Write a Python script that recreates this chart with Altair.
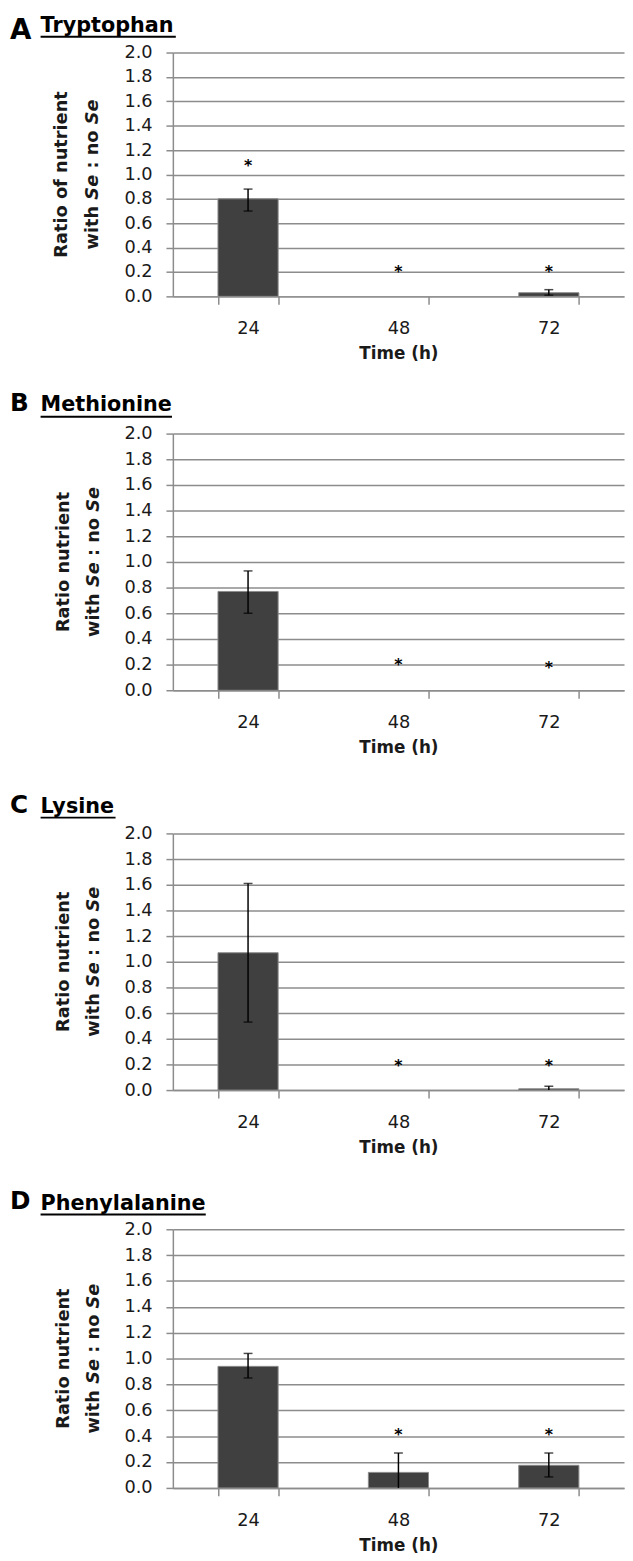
import altair as alt
import pandas as pd

# ---------------- data ----------------
TIMES = ["24", "48", "72"]
LETTERS = ["A", "B", "C", "D"]
NAMES = ["Tryptophan", "Methionine", "Lysine", "Phenylalanine"]
YLINE1 = ["Ratio of nutrient", "Ratio nutrient", "Ratio nutrient", "Ratio nutrient"]
YLINE2 = ["with", "Se", ":", "no", "Se"]
YLINE2_ITALIC = [False, True, False, False, True]
Y_TICKS = [0.0, 0.2, 0.4, 0.6, 0.8, 1.0, 1.2, 1.4, 1.6, 1.8, 2.0]
X_TITLE = "Time (h)"

TRP_MEAN = [0.80, 0.0, 0.03]
TRP_LO = [0.70, None, 0.01]
TRP_HI = [0.88, None, 0.055]
TRP_STAR = [1.10, 0.235, 0.235]

MET_MEAN = [0.77, 0.0, 0.0]
MET_LO = [0.60, None, None]
MET_HI = [0.93, None, None]
MET_STAR = [None, 0.228, 0.205]

LYS_MEAN = [1.07, 0.0, 0.01]
LYS_LO = [0.53, None, 0.0]
LYS_HI = [1.61, None, 0.03]
LYS_STAR = [None, 0.215, 0.215]

PHE_MEAN = [0.94, 0.12, 0.175]
PHE_LO = [0.85, 0.0, 0.085]
PHE_HI = [1.04, 0.27, 0.27]
PHE_STAR = [None, 0.44, 0.44]

SERIES = [
    (TRP_MEAN, TRP_LO, TRP_HI, TRP_STAR),
    (MET_MEAN, MET_LO, MET_HI, MET_STAR),
    (LYS_MEAN, LYS_LO, LYS_HI, LYS_STAR),
    (PHE_MEAN, PHE_LO, PHE_HI, PHE_STAR),
]

# ---------------- layout / style ----------------
FONT = "DejaVu Sans"
W = 457
PLOT_H = [247, 260, 260, 262]
PLOT_TOP = [42, 426, 829, 1228]
BOTTOM_EXT = 70
SPACING = 10
TOP_A = 52
PAD_TOP = PLOT_TOP[0] - 8 - TOP_A
LEFT_EXT = 166
LETTER_SIZE = [28, 25, 25, 25]
LETTER_BASE = [-14, -23, -21, -21]
NAME_SIZE = 21
NAME_BASE = [-21, -23, -21, -20]
UNDER_Y = [-16, -17, -16, -15]
NAME_X = -134
YT_SIZE = 18
YT_X1 = [-112, -110, -110, -110]
YT_X2 = [-81, -80, -80, -80]
GRID = "#8c8c8c"
BAR = "#404040"
BAR_EDGE = "#8a8a8a"
TXT = "#1a1a1a"

BOLD_W = {" ": .348, "w": .924, "i": .343, "t": .478, "h": .712, "S": .720,
          "e": .678, ":": .400, "n": .712, "o": .687, "T": .682, "r": .493,
          "y": .652, "p": .716, "a": .675, "M": .995, "L": .637, "s": .595,
          "P": .733, "l": .343}


def text_w(s, size):
    return sum(BOLD_W.get(c, .65) for c in s) * size


def top_ext(i):
    if i == 0:
        return TOP_A
    prev_bottom = PLOT_TOP[i - 1] + PLOT_H[i - 1] + BOTTOM_EXT + SPACING
    return PLOT_TOP[i] - prev_bottom


def one(d):
    return pd.DataFrame(d)


def panel(i):
    means, lo, hi, stars = SERIES[i]
    h = PLOT_H[i]
    df = pd.DataFrame({"time": TIMES, "mean": means, "lo": lo, "hi": hi, "star": stars})
    base = alt.Chart(df)

    xaxis = alt.Axis(title=X_TITLE, titleFont=FONT, titleFontSize=17, titleFontWeight="bold",
                     titleColor=TXT, titlePadding=8, labelAngle=0, labelFont=FONT,
                     labelFontSize=18, labelColor=TXT, labelPadding=16, tickBand="extent",
                     tickSize=8, tickWidth=1.5, tickColor=GRID, domainColor=GRID,
                     domainWidth=1.5, grid=False)
    yaxis = alt.Axis(title=None, values=Y_TICKS, format=".1f", labelFont=FONT, labelFontSize=18,
                     labelColor=TXT, labelPadding=14, tickSize=7, tickWidth=1.5, tickColor=GRID,
                     domainColor=GRID, domainWidth=1.5, gridColor=GRID, gridWidth=1.5)
    xs = alt.Scale(domain=TIMES, paddingInner=0.6, paddingOuter=0.3)
    ys = alt.Scale(domain=[0, 2], nice=False)

    def X():
        return alt.X("time:N", sort=TIMES, scale=xs, axis=xaxis)

    def Y(f):
        return alt.Y(f, type="quantitative", scale=ys, axis=yaxis)

    bars = base.transform_filter("datum.mean > 0").mark_bar(
        color=BAR, stroke=BAR_EDGE, strokeWidth=1).encode(x=X(), y=Y("mean"))
    err = base.transform_filter("isValid(datum.hi)").mark_rule(
        color="black", strokeWidth=1.5).encode(x=X(), y=Y("lo"), y2="hi:Q")
    cap_hi = base.transform_filter("isValid(datum.hi)").mark_tick(
        color="black", thickness=1.5, size=9).encode(x=X(), y=Y("hi"))
    cap_lo = base.transform_filter("isValid(datum.lo) && datum.lo > 0").mark_tick(
        color="black", thickness=1.5, size=9).encode(x=X(), y=Y("lo"))
    star = base.transform_filter("isValid(datum.star)").mark_text(
        text="*", font=FONT, fontSize=16, fontWeight="bold", color="black",
        baseline="alphabetic", dy=9).encode(x=X(), y=Y("star"))

    layers = [bars, err, cap_hi, cap_lo, star]

    # invisible (white) extents that fix the panel's outer box
    layers.append(alt.Chart(one({"t": [0]})).mark_rule(color="white", strokeWidth=1).encode(
        x=alt.value(-LEFT_EXT + 0.5), x2=alt.value(0), y=alt.value(-top_ext(i) + 0.5)))
    layers.append(alt.Chart(one({"t": [0]})).mark_rule(color="white", strokeWidth=1).encode(
        x=alt.value(-LEFT_EXT + 0.5), x2=alt.value(0), y=alt.value(h + BOTTOM_EXT - 0.5)))

    # panel letter and underlined name
    layers.append(alt.Chart(one({"t": [LETTERS[i]]})).mark_text(
        font=FONT, fontSize=LETTER_SIZE[i], fontWeight="bold", align="left",
        baseline="alphabetic", color="black").encode(
        text="t:N", x=alt.value(-LEFT_EXT + 1), y=alt.value(LETTER_BASE[i])))
    layers.append(alt.Chart(one({"t": [NAMES[i]]})).mark_text(
        font=FONT, fontSize=NAME_SIZE, fontWeight="bold", align="left",
        baseline="alphabetic", color="black").encode(
        text="t:N", x=alt.value(NAME_X), y=alt.value(NAME_BASE[i])))
    layers.append(alt.Chart(one({"t": [0]})).mark_rule(color="black", strokeWidth=2).encode(
        x=alt.value(NAME_X), x2=alt.value(NAME_X + text_w(NAMES[i], NAME_SIZE)),
        y=alt.value(UNDER_Y[i])))

    # y-axis title, two lines, with italic "Se"
    layers.append(alt.Chart(one({"t": [YLINE1[i]]})).mark_text(
        font=FONT, fontSize=YT_SIZE, fontWeight="bold", angle=270, align="center",
        baseline="middle", color=TXT).encode(
        text="t:N", x=alt.value(YT_X1[i]), y=alt.value(h / 2)))
    sp = text_w(" ", YT_SIZE)
    total = sum(text_w(s, YT_SIZE) for s in YLINE2) + sp * (len(YLINE2) - 1)
    start = h / 2 + total / 2
    cum = 0.0
    for s, it in zip(YLINE2, YLINE2_ITALIC):
        layers.append(alt.Chart(one({"t": [s]})).mark_text(
            font=FONT, fontSize=YT_SIZE, fontWeight="bold",
            fontStyle="italic" if it else "normal", angle=270, align="left",
            baseline="middle", color=TXT).encode(
            text="t:N", x=alt.value(YT_X2[i]), y=alt.value(start - cum)))
        cum += text_w(s, YT_SIZE) + sp

    return alt.layer(*layers).properties(width=W, height=h)


chart = alt.vconcat(*[panel(i) for i in range(4)], spacing=SPACING).properties(
    padding={"left": 0, "top": PAD_TOP, "right": 0, "bottom": 0}
).configure_view(stroke="transparent")

chart.save("out.html", embed_options={"renderer": "svg", "actions": False})
